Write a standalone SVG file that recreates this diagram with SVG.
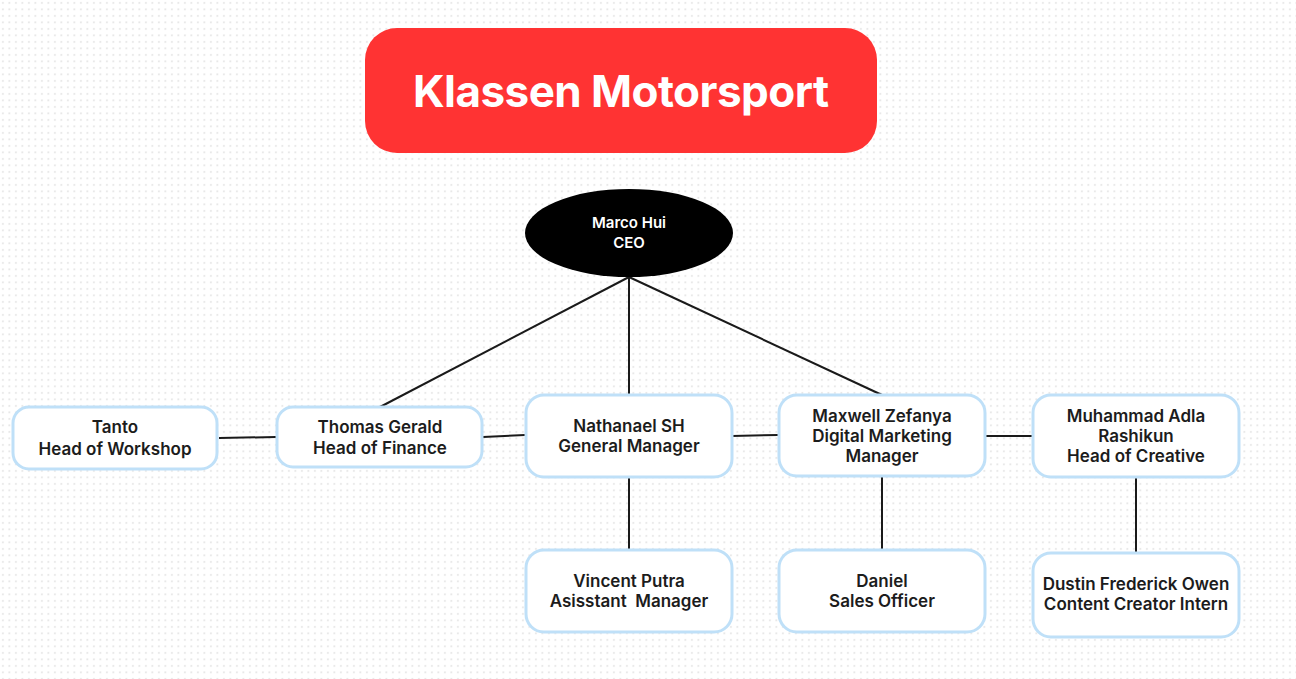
<svg xmlns="http://www.w3.org/2000/svg" width="1296" height="679" viewBox="0 0 1296 679">
<defs>
<pattern id="dots" x="0" y="0" width="6.5" height="6.5" patternUnits="userSpaceOnUse">
<rect x="2" y="2" width="1.8" height="1.8" fill="#e6e6e6"/>
</pattern>
</defs>
<style>
.box{fill:#ffffff;stroke:#bfe0f8;stroke-width:3}
.t{font-family:Inter,"Noto Sans",sans-serif;font-size:17px;font-weight:600;fill:#1c1c1c;text-anchor:middle}
.c{stroke:#1a1a1a;stroke-width:2;fill:none}
</style>
<rect width="1296" height="679" fill="#ffffff"/>
<rect width="1296" height="679" fill="url(#dots)"/>
<g id="connectors">
<line class="c" x1="629" y1="277" x2="380" y2="407"/>
<line class="c" x1="629" y1="277" x2="629" y2="395"/>
<line class="c" x1="629" y1="277" x2="882" y2="395"/>
<line class="c" x1="219" y1="438" x2="276" y2="437"/>
<line class="c" x1="483" y1="437" x2="525" y2="435"/>
<line class="c" x1="732" y1="436" x2="778" y2="435"/>
<line class="c" x1="986" y1="436" x2="1033" y2="436"/>
<line class="c" x1="629" y1="477" x2="629" y2="550"/>
<line class="c" x1="882" y1="477" x2="882" y2="550"/>
<line class="c" x1="1136" y1="477" x2="1136" y2="553"/>
</g>
<g id="title">
<rect x="365" y="28" width="512" height="125" rx="32" fill="#ff3333"/>
<text x="621" y="107" font-family="Inter,'Noto Sans',sans-serif" font-size="44" font-weight="700" fill="#ffffff" text-anchor="middle" textLength="416">Klassen Motorsport</text>
</g>
<g id="ceo">
<ellipse cx="629" cy="233" rx="104" ry="44" fill="#000000"/>
<text class="t" x="629" y="228" style="fill:#ffffff;font-size:15px;font-weight:600">Marco Hui</text>
<text class="t" x="629" y="248" style="fill:#ffffff;font-size:15px;font-weight:600">CEO</text>
</g>
<g id="tanto">
<rect class="box" x="13" y="407" width="204" height="62" rx="16"/>
<text class="t" x="115" y="433">Tanto</text>
<text class="t" x="115" y="455">Head of Workshop</text>
</g>
<g id="thomas">
<rect class="box" x="277" y="407" width="205" height="60" rx="16"/>
<text class="t" x="380" y="433">Thomas Gerald</text>
<text class="t" x="380" y="454">Head of Finance</text>
</g>
<g id="nathanael">
<rect class="box" x="526" y="395" width="206" height="82" rx="18"/>
<text class="t" x="629" y="432">Nathanael SH</text>
<text class="t" x="629" y="452">General Manager</text>
</g>
<g id="maxwell">
<rect class="box" x="779" y="395" width="206" height="81" rx="18"/>
<text class="t" x="882" y="422">Maxwell Zefanya</text>
<text class="t" x="882" y="442">Digital Marketing</text>
<text class="t" x="882" y="462">Manager</text>
</g>
<g id="muhammad">
<rect class="box" x="1033" y="395" width="206" height="82" rx="18"/>
<text class="t" x="1136" y="422">Muhammad Adla</text>
<text class="t" x="1136" y="442">Rashikun</text>
<text class="t" x="1136" y="462">Head of Creative</text>
</g>
<g id="vincent">
<rect class="box" x="526" y="550" width="206" height="82" rx="18"/>
<text class="t" x="629" y="587">Vincent Putra</text>
<text class="t" x="629" y="607" xml:space="preserve">Asisstant  Manager</text>
</g>
<g id="daniel">
<rect class="box" x="779" y="550" width="206" height="82" rx="18"/>
<text class="t" x="882" y="587">Daniel</text>
<text class="t" x="882" y="607">Sales Officer</text>
</g>
<g id="dustin">
<rect class="box" x="1033" y="553" width="206" height="84" rx="18"/>
<text class="t" x="1136" y="590">Dustin Frederick Owen</text>
<text class="t" x="1136" y="610">Content Creator Intern</text>
</g>
</svg>
